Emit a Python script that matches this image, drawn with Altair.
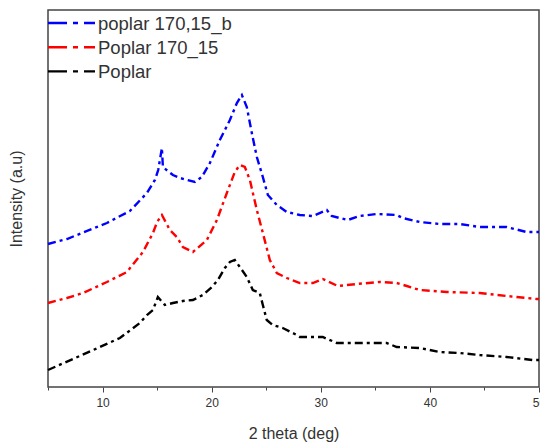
import altair as alt
import pandas as pd

series_names = ["poplar 170,15_b", "Poplar 170_15", "Poplar"]
series_colors = ["#0000ff", "#ff0000", "#000000"]

blue_x = [5.0, 6.74, 10.4, 12.5, 14.07, 14.8, 15.1, 15.44, 15.53, 16.45, 17.09, 18.46, 19.1, 19.84, 20.75,
          21.67, 22.31, 22.77, 23.22, 23.68, 24.14, 24.69, 25.15, 25.97, 26.89, 28.08, 29.27, 30.55, 31.0,
          32.47, 33.57, 35.13, 36.96, 37.51, 39.07, 40.9, 42.73, 44.56, 47.03, 48.86, 50.0]
blue_y = [143, 148, 164, 176, 194, 207, 217, 239, 220, 212, 209, 205, 210, 224, 247,
          267, 284, 292, 280, 254, 230, 210, 192, 182, 175, 172, 171, 177, 171,
          167, 171, 173, 172, 169, 165, 163, 163, 160, 160, 155, 155]

red_x = [5.0, 6.74, 8.2, 10.4, 12.23, 13.7, 14.62, 15.0, 15.44, 16.17, 16.81, 17.36, 18.28, 19.56, 20.48,
         21.39, 22.12, 22.58, 23.04, 23.5, 24.14, 24.69, 25.33, 25.97, 26.89, 28.08, 29.27, 30.18, 31.56,
         33.3, 35.4, 36.96, 37.88, 39.07, 41.54, 44.56, 47.03, 49.78, 50.0]
red_y = [84, 89, 94, 105, 115, 135, 154, 165, 172, 157, 150, 140, 135, 147, 167,
         194, 215, 222, 220, 207, 177, 154, 127, 114, 109, 104, 104, 108, 101,
         103, 105, 104, 101, 97, 95, 94, 91, 88, 88]

black_x = [5.0, 7.29, 9.76, 11.59, 13.42, 14.07, 14.62, 15.07, 15.71, 16.45, 17.36, 18.28, 19.19, 20.02,
           20.57, 21.21, 21.67, 22.12, 22.58, 23.22, 23.77, 24.41, 24.69, 25.05, 25.6, 26.52, 27.8, 28.08,
           30.18, 31.47, 32.93, 34.49, 36.04, 36.96, 39.07, 40.9, 42.73, 44.56, 47.03, 49.41, 50.0]
black_y = [17, 28, 40, 49, 64, 72, 77, 90, 82, 84, 86, 87, 92, 100,
           107, 119, 125, 127, 120, 110, 97, 94, 82, 67, 62, 59, 52, 50,
           50, 44, 44, 44, 44, 40, 39, 35, 34, 32, 30, 27, 27]

x_ticks = [5, 10, 15, 20, 25, 30, 35, 40, 45, 50]

rows = []
for name, xs, ys in zip(series_names, [blue_x, red_x, black_x], [blue_y, red_y, black_y]):
    for i, (a, b) in enumerate(zip(xs, ys)):
        rows.append({"series": name, "theta": a, "intensity": b, "order": i})
df = pd.DataFrame(rows)

FONT = "Liberation Sans"

lines = alt.Chart(df).mark_line(strokeWidth=2.4, strokeDash=[8, 4, 3, 4]).encode(
    x=alt.X("theta:Q", scale=alt.Scale(domain=[5, 50], nice=False, zero=False),
            axis=alt.Axis(values=x_ticks, title="2 theta (deg)",
                          labelExpr="datum.value % 10 === 0 ? datum.label : ''",
                          tickSize={"condition": {"test": "datum.value % 10 === 0", "value": 5}, "value": 3},
                          grid=False, domain=False, tickColor="#444", labelColor="#333",
                          labelFontSize=12, labelPadding=5, labelFlush=False,
                          titleFontSize=16, titleFontWeight="normal",
                          titleColor="#333", titlePadding=17, labelFont=FONT, titleFont=FONT)),
    y=alt.Y("intensity:Q", scale=alt.Scale(domain=[0, 377], nice=False),
            axis=alt.Axis(labels=False, ticks=False, domain=False, grid=False, title="Intensity (a.u)",
                          titleFontSize=16, titleFontWeight="normal", titleColor="#333",
                          titlePadding=24, titleFont=FONT)),
    color=alt.Color("series:N", scale=alt.Scale(domain=series_names, range=series_colors), legend=None),
    order="order:Q",
)

legend_layers = []
for i, (name, col) in enumerate(zip(series_names, series_colors)):
    yy = 13 + 24.2 * i
    legend_layers.append(
        alt.Chart(df).mark_rule(color=col, strokeWidth=2.4, strokeDash=[19, 6, 5, 6]).encode(
            x=alt.value(0), x2=alt.value(47), y=alt.value(yy)
        ).transform_filter(alt.datum.order == 0).transform_filter(alt.datum.series == name)
    )
    legend_layers.append(
        alt.Chart(df).mark_text(align="left", baseline="middle", fontSize=18.5, font=FONT,
                                color="#333", text=name).encode(
            x=alt.value(50), y=alt.value(yy + 1)
        ).transform_filter(alt.datum.order == 0).transform_filter(alt.datum.series == name)
    )

chart = alt.layer(lines, *legend_layers).properties(
    width=491, height=377,
    padding={"left": 48, "top": 10, "right": 1, "bottom": 60},
    autosize=alt.AutoSizeParams(type="none"),
).configure_view(stroke="#444", strokeWidth=1.5)

chart.save("out.html", embed_options={"renderer": "svg", "actions": False})
